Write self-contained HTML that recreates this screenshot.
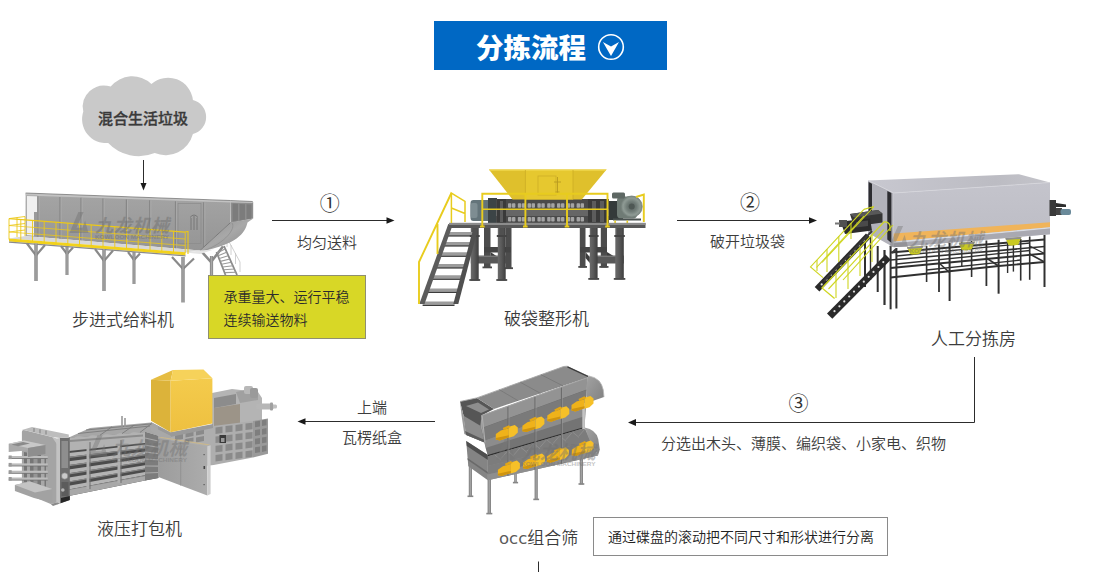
<!DOCTYPE html>
<html lang="zh-CN">
<head>
<meta charset="utf-8">
<title>分拣流程</title>
<style>
html,body{margin:0;padding:0;background:#fff;}
body{width:1100px;height:572px;position:relative;overflow:hidden;font-family:"Liberation Sans","Noto Sans CJK SC",sans-serif;color:#444;}
.t{position:absolute;white-space:nowrap;line-height:1;}
.lbl{font-size:17px;color:#3c3c3c;font-weight:350;}
.sm{font-size:15px;color:#3c3c3c;font-weight:350;}
.num{font-size:20px;color:#333;font-weight:400;}
#title{position:absolute;left:434px;top:21px;width:233px;height:49px;background:#0068c4;}
#title span{position:absolute;left:42px;top:13.500px;font-size:27.5px;font-weight:900;color:#fff;line-height:1;white-space:nowrap;}
#ybox{position:absolute;left:208px;top:275px;width:158px;height:64px;background:#d8d726;border:1px solid #8f8f70;box-sizing:border-box;}
#ybox div{position:absolute;left:14.500px;font-size:14px;color:#2c2c2c;font-weight:350;line-height:1;white-space:nowrap;}
#wbox{position:absolute;left:593px;top:517px;width:295px;height:39px;border:1px solid #8a8a8a;box-sizing:border-box;background:#fff;}
#wbox div{position:absolute;left:14px;top:11.5px;font-size:14px;color:#222;font-weight:350;line-height:1;white-space:nowrap;}
svg{position:absolute;left:0;top:0;}
.wm{font-family:"Liberation Sans","Noto Sans CJK SC",sans-serif;font-weight:700;font-style:italic;fill:#707070;}
</style>
</head>
<body>
<svg id="art" width="1100" height="572" viewBox="0 0 1100 572">
<!-- cloud -->
<g id="cloud" fill="#c9c9c9">
<path d="M83.3,111.5 A21.300,21.300 0 0 1 110.7,86.6 A27.600,27.600 0 0 1 151.4,84.1 A25,25 0 0 1 192.9,99.9 A17.600,17.600 0 0 1 192.9,134 A28.300,28.300 0 0 1 154.7,153 A42,42 0 0 1 108.2,143 A24,24 0 0 1 83.3,111.5 Z"/>
</g>
<!-- arrows -->
<g stroke="#2c2c2c" stroke-width="1" fill="none">
<line x1="143.5" y1="160" x2="143.5" y2="184"/>
<line x1="272" y1="220.5" x2="388" y2="220.5"/>
<line x1="677" y1="220.5" x2="810" y2="220.5"/>
<polyline points="974.500,357 974.500,422.5 635,422.5"/>
<line x1="435" y1="421.5" x2="304" y2="421.5"/>
<line x1="538.5" y1="561.500" x2="538.5" y2="572"/>
</g>
<g fill="#1a1a1a">
<polygon points="140.5,183 146.5,183 143.5,190.5"/>
<polygon points="386.500,217.200 386.500,223.800 394.5,220.5"/>
<polygon points="809,217.200 809,223.800 817,220.5"/>
<polygon points="636,419.100 636,425.900 628,422.5"/>
<polygon points="305.500,418.200 305.500,424.800 297.500,421.5"/>
</g>
<g id="feeder">
<defs><linearGradient id="fbody" x1="0" y1="0" x2="0" y2="1"><stop offset="0" stop-color="#adadad"/><stop offset="0.08" stop-color="#a3a3a3"/><stop offset="1" stop-color="#959595"/></linearGradient><linearGradient id="fchute" x1="0" y1="0" x2="1" y2="1"><stop offset="0" stop-color="#8e8e8e"/><stop offset="0.5" stop-color="#a8a8a8"/><stop offset="1" stop-color="#868686"/></linearGradient><linearGradient id="fleg" x1="0" y1="0" x2="1" y2="0"><stop offset="0" stop-color="#7e7e7e"/><stop offset="0.5" stop-color="#a8a8a8"/><stop offset="1" stop-color="#808080"/></linearGradient></defs>
<path d="M61,246 L67,254 L73,247.5" fill="none" stroke="#8a8a8a" stroke-width="2.2"/><rect x="65.5" y="246" width="3" height="29" fill="url(#fleg)"/>
<path d="M128,252 L134,260 L140,253.5" fill="none" stroke="#8a8a8a" stroke-width="2.2"/><rect x="132.5" y="252" width="3" height="32" fill="url(#fleg)"/>
<path d="M201.500,251.500 L211,262 L223,246.500" fill="none" stroke="#8a8a8a" stroke-width="2.6"/>
<rect x="209.9" y="256" width="3.2" height="34" fill="url(#fleg)"/>
<g stroke="#8a8a8a" stroke-width="1.8" fill="none">
<line x1="216.5" y1="252" x2="225.5" y2="275"/><line x1="224" y1="246" x2="237" y2="275"/>
</g>
<g stroke="#9a9a9a" stroke-width="1.1">
<line x1="217.0" y1="253.0" x2="225.0" y2="249.0"/>
<line x1="218.1" y1="255.8" x2="226.6" y2="252.3"/>
<line x1="219.3" y1="258.6" x2="228.2" y2="255.7"/>
<line x1="220.4" y1="261.4" x2="229.8" y2="259.0"/>
<line x1="221.5" y1="264.2" x2="231.4" y2="262.3"/>
<line x1="222.7" y1="267.0" x2="233.0" y2="265.7"/>
<line x1="223.8" y1="269.8" x2="234.6" y2="269.0"/>
<line x1="224.9" y1="272.6" x2="236.2" y2="272.3"/>
</g>
<g stroke="#c4c4c4" stroke-width="0.8" fill="none"><line x1="227" y1="238" x2="240" y2="262"/><line x1="227" y1="238" x2="227" y2="247"/><line x1="231" y1="245" x2="231" y2="255"/><line x1="235.500" y1="253" x2="235.500" y2="264"/><line x1="240" y1="262" x2="240" y2="272"/></g>
<polygon points="230.6,201 253.2,202 253.2,218.500 231,223" fill="#8e8e8e"/>
<polygon points="232.500,203.500 238,203.800 238,220.500 232.500,221.500" fill="#7c7c7c"/><polygon points="239.500,204 245,204.300 245,219.500 239.500,220.500" fill="#7c7c7c"/><polygon points="246.500,204.300 251.500,204.500 251.500,218.500 246.500,219.300" fill="#7c7c7c"/>
<path d="M230.6,222.5 L253.2,218.500 L247.500,222.600 C245,234 236,244 203,251.300 L200,250.5 Z" fill="url(#fchute)"/>
<path d="M232,223 C236,228 226,243 203,251" fill="none" stroke="#8c8c8c" stroke-width="0.7"/>
<polygon points="25.6,193.300 230.6,200.800 230.6,222.500 200,250.5 25.6,236" fill="url(#fbody)"/>
<polygon points="25.6,193 252.7,201.500 252.7,203 230.6,202.500 25.6,195.500" fill="#c2c2c2"/>
<polyline points="25.6,193 230.6,200.500 252.7,201.500" fill="none" stroke="#6e6e6e" stroke-width="0.7"/>
<polygon points="26.500,195.500 37.5,196 37.5,236.500 26.500,235.500" fill="#f0f0f0" stroke="#9a9a9a" stroke-width="0.6"/>
<rect x="34" y="212" width="3.5" height="25" fill="#9a9a9a"/>
<line x1="38" y1="196.3" x2="38" y2="237.0" stroke="#868686" stroke-width="1.2"/>
<line x1="39.1" y1="196.3" x2="39.1" y2="237.0" stroke="#b4b4b4" stroke-width="0.6"/>
<line x1="60" y1="197.1" x2="60" y2="238.9" stroke="#868686" stroke-width="1.2"/>
<line x1="61.1" y1="197.1" x2="61.1" y2="238.9" stroke="#b4b4b4" stroke-width="0.6"/>
<line x1="81" y1="197.8" x2="81" y2="240.6" stroke="#868686" stroke-width="1.2"/>
<line x1="82.1" y1="197.8" x2="82.1" y2="240.6" stroke="#b4b4b4" stroke-width="0.6"/>
<line x1="103" y1="198.6" x2="103" y2="242.4" stroke="#868686" stroke-width="1.2"/>
<line x1="104.1" y1="198.6" x2="104.1" y2="242.4" stroke="#b4b4b4" stroke-width="0.6"/>
<line x1="126.4" y1="199.5" x2="126.4" y2="244.4" stroke="#868686" stroke-width="1.2"/>
<line x1="127.5" y1="199.5" x2="127.5" y2="244.4" stroke="#b4b4b4" stroke-width="0.6"/>
<line x1="149.7" y1="200.3" x2="149.7" y2="246.3" stroke="#868686" stroke-width="1.2"/>
<line x1="150.79999999999998" y1="200.3" x2="150.79999999999998" y2="246.3" stroke="#b4b4b4" stroke-width="0.6"/>
<line x1="175.5" y1="201.3" x2="175.5" y2="248.5" stroke="#868686" stroke-width="1.2"/>
<line x1="176.6" y1="201.3" x2="176.6" y2="248.5" stroke="#b4b4b4" stroke-width="0.6"/>
<line x1="203.7" y1="202.3" x2="203.7" y2="247.1" stroke="#868686" stroke-width="1.2"/>
<line x1="204.79999999999998" y1="202.3" x2="204.79999999999998" y2="247.1" stroke="#b4b4b4" stroke-width="0.6"/>
<rect x="178" y="203.500" width="23" height="40" fill="none" stroke="#8a8a8a" stroke-width="0.7"/>
<path d="M191,218 v12 M194,216 v14 M197,218 v12 M190,217.500 q4,-5 8,0" stroke="#777" stroke-width="1" fill="none"/>
<line x1="230.6" y1="222.5" x2="200" y2="250.5" stroke="#7a7a7a" stroke-width="1"/>
<polygon points="9,238.500 25.6,236 200,250.500 185.5,252.500" fill="#d8d8d8"/>
<polygon points="185.5,252.500 200,250.500 214,249.500 200,254" fill="#e4e4e4"/>
<polygon points="9,238.500 185.5,252.200 185.5,255.200 9,241.500" fill="#f2d21c"/>
<polygon points="9,241.500 185.5,255.200 185.5,256.500 9,242.800" fill="#8a8a8a"/>
<path d="M27,243.5 L36,255.5 L45,245.0" fill="none" stroke="#8a8a8a" stroke-width="2.2"/><rect x="34.3" y="243.5" width="3.4" height="37.5" fill="url(#fleg)"/>
<path d="M95,249 L104,261 L113,250.5" fill="none" stroke="#8a8a8a" stroke-width="2.2"/><rect x="102.3" y="249" width="3.4" height="42" fill="url(#fleg)"/>
<path d="M172,257 L183,269 L194,258.5" fill="none" stroke="#8a8a8a" stroke-width="2.2"/><rect x="181.3" y="257" width="3.4" height="45.5" fill="url(#fleg)"/>
<g stroke="#ecc818" fill="none">
<line x1="9" y1="218.6" x2="185" y2="232.1" stroke-width="1.1"/>
<line x1="9" y1="225.5" x2="185" y2="239.0" stroke-width="0.75"/>
<line x1="9" y1="232" x2="185" y2="245.5" stroke-width="0.75"/>
<line x1="9.0" y1="218.6" x2="9.0" y2="239.5" stroke-width="0.9"/>
<line x1="20.8" y1="219.5" x2="20.8" y2="240.4" stroke-width="0.9"/>
<line x1="32.5" y1="220.4" x2="32.5" y2="241.3" stroke-width="0.9"/>
<line x1="44.2" y1="221.3" x2="44.2" y2="242.2" stroke-width="0.9"/>
<line x1="56.0" y1="222.2" x2="56.0" y2="243.1" stroke-width="0.9"/>
<line x1="67.8" y1="223.1" x2="67.8" y2="244.0" stroke-width="0.9"/>
<line x1="79.5" y1="224.0" x2="79.5" y2="244.9" stroke-width="0.9"/>
<line x1="91.2" y1="224.9" x2="91.2" y2="245.8" stroke-width="0.9"/>
<line x1="103.0" y1="225.8" x2="103.0" y2="246.7" stroke-width="0.9"/>
<line x1="114.8" y1="226.7" x2="114.8" y2="247.6" stroke-width="0.9"/>
<line x1="126.5" y1="227.6" x2="126.5" y2="248.5" stroke-width="0.9"/>
<line x1="138.2" y1="228.5" x2="138.2" y2="249.4" stroke-width="0.9"/>
<line x1="150.0" y1="229.4" x2="150.0" y2="250.3" stroke-width="0.9"/>
<line x1="161.8" y1="230.3" x2="161.8" y2="251.2" stroke-width="0.9"/>
<line x1="173.5" y1="231.2" x2="173.5" y2="252.1" stroke-width="0.9"/>
<line x1="185.2" y1="232.1" x2="185.2" y2="253.0" stroke-width="0.9"/>
<path d="M9,218.600 L25,216.500 M9,225.500 L25,223.500 M9,232 L25,230 M17,217.500 V237 M25,216.500 V236" stroke-width="0.9"/>
<path d="M185,232 L188,231.500 V254 " stroke-width="1.1"/>
</g>
<g opacity="0.5"><text class="wm" x="95" y="231.5" font-size="18" textLength="74" lengthAdjust="spacing">九龙机械</text><path d="M69.5,233.0 L78.4,212.0 L83.6,212.0 L76.5,227.8 L82.4,227.8 L85.1,220.8 L88.5,233.0 Z" fill="#777"/><text class="wm" x="95" y="238.5" font-size="5.5" textLength="74" lengthAdjust="spacingAndGlyphs" style="font-style:normal">KOWLOON MACHINERY</text></g>
</g>
<g id="shredder">
<defs><linearGradient id="scol" x1="0" y1="0" x2="1" y2="0"><stop offset="0" stop-color="#6a6a6a"/><stop offset="0.45" stop-color="#5a5a5a"/><stop offset="1" stop-color="#3e3e3e"/></linearGradient><linearGradient id="shop" x1="0" y1="0" x2="0" y2="1"><stop offset="0" stop-color="#e6c52e"/><stop offset="1" stop-color="#dfbf2c"/></linearGradient><radialGradient id="smot" cx="0.5" cy="0.5" r="0.5"><stop offset="0" stop-color="#59635f"/><stop offset="0.45" stop-color="#6f7b76"/><stop offset="0.8" stop-color="#8e9a94"/><stop offset="1" stop-color="#7c8882"/></radialGradient></defs>
<rect x="484" y="227" width="6.5" height="41" fill="#4c4c4c"/><rect x="482.5" y="266.5" width="9.5" height="1.8" fill="#4a4a4a"/>
<rect x="505.7" y="227" width="5.800000000000011" height="41.80000000000001" fill="#4c4c4c"/><rect x="504.2" y="267.3" width="8.800000000000011" height="1.8" fill="#4a4a4a"/>
<rect x="579.8" y="227" width="5.7000000000000455" height="40.5" fill="#4c4c4c"/><rect x="578.3" y="266.0" width="8.700000000000045" height="1.8" fill="#4a4a4a"/>
<rect x="600.8" y="227" width="6.2000000000000455" height="40.5" fill="#4c4c4c"/><rect x="599.3" y="266.0" width="9.200000000000045" height="1.8" fill="#4a4a4a"/>
<rect x="484" y="247" width="27" height="5.5" fill="#444"/>
<rect x="580" y="247" width="27" height="5.5" fill="#444"/>
<polygon points="490.500,252 497.800,257 497.800,263 490.500,258" fill="#3c3c3c"/>
<polygon points="585.500,252 589.800,257 589.800,263 585.500,258" fill="#3c3c3c"/>
<polygon points="607,252 615,257 615,263 607,258" fill="#3c3c3c"/>
<rect x="470.8" y="255.7" width="35" height="7.8" fill="#585858"/><rect x="470.8" y="255.7" width="35" height="1.2" fill="#7a7a7a"/>
<rect x="589.8" y="255.7" width="34" height="7.8" fill="#585858"/><rect x="589.8" y="255.7" width="34" height="1.2" fill="#7a7a7a"/>
<rect x="470.8" y="227" width="7.899999999999977" height="53.60000000000002" fill="url(#scol)"/><rect x="469.8" y="235" width="9.899999999999977" height="2" fill="#444"/><rect x="472.3" y="227" width="4.899999999999977" height="8" fill="#505050"/><rect x="469.3" y="279.1" width="10.899999999999977" height="1.8" fill="#4a4a4a"/>
<rect x="497.8" y="227" width="7.899999999999977" height="53.60000000000002" fill="url(#scol)"/><rect x="496.8" y="235" width="9.899999999999977" height="2" fill="#444"/><rect x="499.3" y="227" width="4.899999999999977" height="8" fill="#505050"/><rect x="496.3" y="279.1" width="10.899999999999977" height="1.8" fill="#4a4a4a"/>
<rect x="589.8" y="227" width="7.800000000000068" height="52.5" fill="url(#scol)"/><rect x="588.8" y="235" width="9.800000000000068" height="2" fill="#444"/><rect x="591.3" y="227" width="4.800000000000068" height="8" fill="#505050"/><rect x="588.3" y="278.0" width="10.800000000000068" height="1.8" fill="#4a4a4a"/>
<rect x="615.3" y="227" width="8.5" height="52.5" fill="url(#scol)"/><rect x="614.3" y="235" width="10.5" height="2" fill="#444"/><rect x="616.8" y="227" width="5.5" height="8" fill="#505050"/><rect x="613.8" y="278.0" width="11.5" height="1.8" fill="#4a4a4a"/>
<g>
<polygon points="448.7,232 473.7,232 472.7,235.2 447.7,235.2" fill="#9c9c9c"/>
<polygon points="447.7,235.2 472.7,235.2 472.7,236.6 447.7,236.6" fill="#3c3c3c"/>
<polygon points="445.1,242 471.1,242 470.1,245.2 444.1,245.2" fill="#9c9c9c"/>
<polygon points="444.1,245.2 470.1,245.2 470.1,246.6 444.1,246.6" fill="#3c3c3c"/>
<polygon points="441.4,252.3 468.4,252.3 467.4,255.5 440.4,255.5" fill="#9c9c9c"/>
<polygon points="440.4,255.5 467.4,255.5 467.4,256.90000000000003 440.4,256.90000000000003" fill="#3c3c3c"/>
<polygon points="437.1,264 465.3,264 464.3,267.2 436.1,267.2" fill="#9c9c9c"/>
<polygon points="436.1,267.2 464.3,267.2 464.3,268.6 436.1,268.6" fill="#3c3c3c"/>
<polygon points="433.0,275.3 462.3,275.3 461.3,278.5 432.0,278.5" fill="#9c9c9c"/>
<polygon points="432.0,278.5 461.3,278.5 461.3,279.90000000000003 432.0,279.90000000000003" fill="#3c3c3c"/>
<polygon points="428.3,288.4 458.9,288.4 457.9,291.59999999999997 427.3,291.59999999999997" fill="#9c9c9c"/>
<polygon points="427.3,291.59999999999997 457.9,291.59999999999997 457.9,293.0 427.3,293.0" fill="#3c3c3c"/>
<polygon points="423.6,301.5 455.5,301.5 454.5,304.7 422.6,304.7" fill="#9c9c9c"/>
<polygon points="422.6,304.7 454.5,304.7 454.5,306.1 422.6,306.1" fill="#3c3c3c"/>
<polygon points="448.300,224 453,224 424.500,304 419.300,304" fill="#5c5c5c"/>
<polygon points="474.500,224 479.200,224 458.300,304 453.300,304" fill="#505050"/>
</g>
<rect x="470.5" y="200" width="26" height="21" rx="3" fill="#64747a"/>
<rect x="470.5" y="203" width="7" height="15" rx="2" fill="#7e8d92"/>
<rect x="488" y="198" width="9" height="25" fill="#3c4446"/>
<rect x="496" y="199" width="113" height="25.500" fill="#4a4a4a"/>
<rect x="496" y="209" width="113" height="7" fill="#666"/>
<g fill="#a4a4a4">
<rect x="508.0" y="203.200" width="3.4" height="4.6" rx="0.8"/><rect x="512.0" y="203.200" width="3.4" height="4.6" rx="0.8"/>
<rect x="508.0" y="217" width="3.4" height="4.6" rx="0.8"/><rect x="512.0" y="217" width="3.4" height="4.6" rx="0.8"/>
<rect x="517.8" y="203.200" width="3.4" height="4.6" rx="0.8"/><rect x="521.8" y="203.200" width="3.4" height="4.6" rx="0.8"/>
<rect x="517.8" y="217" width="3.4" height="4.6" rx="0.8"/><rect x="521.8" y="217" width="3.4" height="4.6" rx="0.8"/>
<rect x="527.6" y="203.200" width="3.4" height="4.6" rx="0.8"/><rect x="531.6" y="203.200" width="3.4" height="4.6" rx="0.8"/>
<rect x="527.6" y="217" width="3.4" height="4.6" rx="0.8"/><rect x="531.6" y="217" width="3.4" height="4.6" rx="0.8"/>
<rect x="537.4" y="203.200" width="3.4" height="4.6" rx="0.8"/><rect x="541.4" y="203.200" width="3.4" height="4.6" rx="0.8"/>
<rect x="537.4" y="217" width="3.4" height="4.6" rx="0.8"/><rect x="541.4" y="217" width="3.4" height="4.6" rx="0.8"/>
<rect x="547.2" y="203.200" width="3.4" height="4.6" rx="0.8"/><rect x="551.2" y="203.200" width="3.4" height="4.6" rx="0.8"/>
<rect x="547.2" y="217" width="3.4" height="4.6" rx="0.8"/><rect x="551.2" y="217" width="3.4" height="4.6" rx="0.8"/>
<rect x="557.0" y="203.200" width="3.4" height="4.6" rx="0.8"/><rect x="561.0" y="203.200" width="3.4" height="4.6" rx="0.8"/>
<rect x="557.0" y="217" width="3.4" height="4.6" rx="0.8"/><rect x="561.0" y="217" width="3.4" height="4.6" rx="0.8"/>
<rect x="566.8" y="203.200" width="3.4" height="4.6" rx="0.8"/><rect x="570.8" y="203.200" width="3.4" height="4.6" rx="0.8"/>
<rect x="566.8" y="217" width="3.4" height="4.6" rx="0.8"/><rect x="570.8" y="217" width="3.4" height="4.6" rx="0.8"/>
<rect x="576.6" y="203.200" width="3.4" height="4.6" rx="0.8"/><rect x="580.6" y="203.200" width="3.4" height="4.6" rx="0.8"/>
<rect x="576.6" y="217" width="3.4" height="4.6" rx="0.8"/><rect x="580.6" y="217" width="3.4" height="4.6" rx="0.8"/>
</g>
<g fill="#3a3a3a"><rect x="497" y="199" width="9" height="25.500"/><rect x="588" y="199" width="20" height="25.500"/></g>
<g fill="#5c5c5c"><rect x="500" y="201" width="3" height="21"/><rect x="592" y="201" width="4" height="21"/><rect x="600" y="201" width="4" height="21"/></g>
<polygon points="488.9,169.5 606.6,169.5 581.8,199.500 512.5,199.500" fill="#dfc02c"/>
<polygon points="525.4,170.500 573,170.500 573,199.500 525.4,199.500" fill="#e6c82f"/>
<polygon points="488.9,169.5 606.6,169.5 605.600,170.800 489.900,170.800" fill="#f0d84e"/>
<rect x="538" y="176" width="18" height="19" fill="none" stroke="#cdae26" stroke-width="0.8"/>
<path d="M557.500,177 v16 M554,182 h7 M555.500,192 h4" stroke="#b89a20" stroke-width="0.9" fill="none"/>
<line x1="525.4" y1="170" x2="525.4" y2="199.500" stroke="#c9aa24" stroke-width="0.7"/><line x1="573" y1="170" x2="573" y2="199.500" stroke="#c9aa24" stroke-width="0.7"/>
<rect x="609" y="201" width="14" height="19" fill="#343a3a"/>
<rect x="617" y="196.5" width="20" height="22" rx="4" fill="#6f7b75"/>
<rect x="612" y="192.500" width="13" height="6" rx="1.5" fill="#5e6864"/>
<circle cx="631.7" cy="206.6" r="10.6" fill="url(#smot)" stroke="#76827c" stroke-width="0.8"/>
<circle cx="631.7" cy="206.6" r="3" fill="#4e5854"/>
<rect x="613" y="218.500" width="28" height="2" fill="#4a5250"/><rect x="614.300" y="220.500" width="1.6" height="2.500" fill="#e8cc1e"/><rect x="626.500" y="220.500" width="1.6" height="2.500" fill="#e8cc1e"/>
<polygon points="449,223 645.5,223 645.5,228 449,228" fill="#585858"/>
<rect x="449" y="222.800" width="196.500" height="2.2" fill="#8c8c8c"/>
<g stroke="#e8cc1e" fill="none" stroke-width="1.9">
<path d="M482.3,226.500 V193.7 H607.5 V226.500 M525.4,193.700 V226.500 M567,193.700 V226.500"/>
<path d="M482.3,209.2 H607.5" stroke-width="1.5"/>
<path d="M636,197 L643.8,194.5 V222" />
<path d="M451.4,223 V193 L465,201.400 V222 M451.400,208 L465,213.500" stroke-width="1.5"/>
<path d="M451.4,193 L419,262 V304 M437.500,224 V254" stroke-width="1.9"/>
</g>
<g fill="#e6ca20"><rect x="480" y="225.500" width="4.6" height="2"/><rect x="523" y="225.500" width="4.6" height="2"/><rect x="564.700" y="225.500" width="4.6" height="2"/><rect x="605.200" y="225.500" width="4.6" height="2"/></g>
</g>
<g id="house">
<defs><linearGradient id="hfront" x1="0" y1="0" x2="0" y2="1"><stop offset="0" stop-color="#c4c4cc"/><stop offset="1" stop-color="#bcbcc4"/></linearGradient><linearGradient id="htop" x1="0" y1="0" x2="1" y2="0"><stop offset="0" stop-color="#c8c8d0"/><stop offset="0.7" stop-color="#bcbcc3"/><stop offset="1" stop-color="#c4c4ca"/></linearGradient></defs>
<g stroke="#303030" fill="none" stroke-linecap="butt">
<line x1="890.6" y1="246" x2="890.6" y2="309.3" stroke-width="2"/>
<line x1="896.4" y1="248" x2="896.4" y2="308.5" stroke-width="2"/>
<line x1="926.6" y1="246" x2="926.6" y2="282" stroke-width="1.6"/>
<line x1="939" y1="244.6" x2="939" y2="292" stroke-width="1.8"/>
<line x1="949.6" y1="243" x2="949.6" y2="301" stroke-width="2"/>
<line x1="961.8" y1="241" x2="961.8" y2="267" stroke-width="1.4"/>
<line x1="971.6" y1="241" x2="971.6" y2="277" stroke-width="1.6"/>
<line x1="986.4" y1="240.5" x2="986.4" y2="286" stroke-width="1.8"/>
<line x1="998.6" y1="239.7" x2="998.6" y2="293.7" stroke-width="2"/>
<line x1="1007.6" y1="241" x2="1007.6" y2="273" stroke-width="1.4"/>
<line x1="1013.4" y1="241" x2="1013.4" y2="271.6" stroke-width="1.4"/>
<line x1="1020.7" y1="239" x2="1020.7" y2="280.6" stroke-width="1.6"/>
<line x1="1029.7" y1="236.5" x2="1029.7" y2="279.8" stroke-width="1.6"/>
<line x1="1044.5" y1="234.8" x2="1044.5" y2="287" stroke-width="2"/>
<line x1="890.6" y1="252.5" x2="1044.5" y2="239.5" stroke-width="1.8"/>
<line x1="890.6" y1="260" x2="1044.5" y2="246.5" stroke-width="1.6"/>
<line x1="890.6" y1="268" x2="1044.5" y2="253.5" stroke-width="1.8"/>
<line x1="890.6" y1="277.5" x2="998.6" y2="266" stroke-width="2"/>
<line x1="998.6" y1="266" x2="1044.5" y2="262" stroke-width="1.8"/>
<line x1="896.4" y1="256" x2="1030" y2="243" stroke-width="1.3"/>
<line x1="896.4" y1="264" x2="1030" y2="250.5" stroke-width="1.3"/>
<line x1="926.6" y1="270" x2="1020.7" y2="260" stroke-width="1.3"/>
<line x1="939" y1="263" x2="949.6" y2="272.5" stroke-width="1.6"/>
<line x1="986.4" y1="258" x2="998.6" y2="266" stroke-width="1.6"/>
<line x1="1029.7" y1="254" x2="1044.5" y2="262" stroke-width="1.6"/>
<line x1="1029.7" y1="246" x2="1044.5" y2="253.5" stroke-width="1.4"/>
</g>
<g stroke="#303030" fill="none">
<line x1="865" y1="236" x2="865" y2="287" stroke-width="2"/>
<line x1="877.7" y1="246" x2="877.7" y2="292" stroke-width="2"/>
<line x1="884.5" y1="250" x2="884.5" y2="305" stroke-width="2.2"/>
<line x1="870.5" y1="236" x2="870.5" y2="280" stroke-width="1.4"/>
</g>
<path d="M907,246.9 L923,245.9 L920,253.4 Q915,255.4 910,253.9 Z" fill="#c9c922"/>
<path d="M907,246.9 L923,245.9 L922.5,247.9 L907.5,248.9 Z" fill="#8e8e8e"/>
<path d="M958.7,242.8 L974.7,241.8 L971.7,249.3 Q966.7,251.3 961.7,249.8 Z" fill="#c9c922"/>
<path d="M958.7,242.8 L974.7,241.8 L974.2,243.8 L959.2,244.8 Z" fill="#8e8e8e"/>
<path d="M1005.4,237.9 L1021.4,236.9 L1018.4,244.4 Q1013.4,246.4 1008.4,244.9 Z" fill="#c9c922"/>
<path d="M1005.4,237.9 L1021.4,236.9 L1020.9,238.9 L1005.9,239.9 Z" fill="#8e8e8e"/>
<polygon points="868,180.4 893.7,193 893.7,247.300 868,233" fill="#b2b2ba"/>
<polygon points="868.6,182 872,183.700 872,212 868.6,212" fill="#2c2c30"/>
<polygon points="887.3,191 891.4,193 891.4,243 887.3,239.500" fill="#2c2c30"/>
<polygon points="893.7,193 1050,182.5 1050,234.2 893.7,247.3" fill="url(#hfront)"/>
<polygon points="893.7,233.6 1050,222.3 1050,227.2 893.7,241.6" fill="#f0b45a"/>
<polygon points="893.7,241.6 1050,227.2 1050,228.600 893.7,243.200" fill="#d8dce4"/>
<polygon points="893.7,243.2 1050,228.6 1050,234.2 893.7,247.3" fill="#a9a9b1"/>
<polygon points="868,180.4 1019,174.2 1050,182.5 893.7,193" fill="url(#htop)"/>
<polyline points="868,180.4 893.7,193 1050,182.5" fill="none" stroke="#d6d6dc" stroke-width="0.8"/>
<rect x="1049.5" y="200" width="6.5" height="16" fill="#3a3a3a"/>
<polygon points="1056,203 1066,204.500 1066,207 1056,207" fill="#2e2e2e"/>
<rect x="1056" y="208" width="6" height="7" fill="#444"/>
<rect x="1060.500" y="209" width="10.500" height="6" rx="2" fill="#6a8a9a"/>
<polygon points="850,214 878,210 882.500,213.500 882.500,222.500 854,226.500" fill="#353535"/>
<polygon points="850,214 878,210 882.500,213.500 854,217.500" fill="#585858"/>
<polygon points="840.5,221.500 870,218.500 872,230.500 845,234" fill="#2c2c2c"/>
<polygon points="856,222 868,220.500 868,226 856,227.500" fill="#4a4a4a"/>
<rect x="839" y="220" width="8" height="7" fill="#505050"/>
<rect x="835" y="222.500" width="5" height="2" fill="#777"/>
<polygon points="866.0,233.5 814.7,287.0 819.4,291.5 870.7,238.0" fill="#2a2a2a"/>
<circle cx="863.7" cy="240.6" r="1.1" fill="#e0e0e0"/>
<circle cx="859.0" cy="245.5" r="1.1" fill="#e0e0e0"/>
<circle cx="854.4" cy="250.3" r="1.1" fill="#e0e0e0"/>
<circle cx="849.7" cy="255.2" r="1.1" fill="#e0e0e0"/>
<circle cx="845.0" cy="260.1" r="1.1" fill="#e0e0e0"/>
<circle cx="840.4" cy="264.9" r="1.1" fill="#e0e0e0"/>
<circle cx="835.7" cy="269.8" r="1.1" fill="#e0e0e0"/>
<circle cx="831.0" cy="274.7" r="1.1" fill="#e0e0e0"/>
<circle cx="826.4" cy="279.5" r="1.1" fill="#e0e0e0"/>
<circle cx="821.7" cy="284.4" r="1.1" fill="#e0e0e0"/>
<polygon points="885.5,254.5 827.0,313.5 832.3,318.8 890.8,259.8" fill="#2a2a2a"/>
<circle cx="883.3" cy="262.1" r="1.1" fill="#e0e0e0"/>
<circle cx="878.4" cy="267.0" r="1.1" fill="#e0e0e0"/>
<circle cx="873.5" cy="271.9" r="1.1" fill="#e0e0e0"/>
<circle cx="868.7" cy="276.8" r="1.1" fill="#e0e0e0"/>
<circle cx="863.8" cy="281.7" r="1.1" fill="#e0e0e0"/>
<circle cx="858.9" cy="286.6" r="1.1" fill="#e0e0e0"/>
<circle cx="854.0" cy="291.6" r="1.1" fill="#e0e0e0"/>
<circle cx="849.2" cy="296.5" r="1.1" fill="#e0e0e0"/>
<circle cx="844.3" cy="301.4" r="1.1" fill="#e0e0e0"/>
<circle cx="839.4" cy="306.3" r="1.1" fill="#e0e0e0"/>
<circle cx="834.5" cy="311.2" r="1.1" fill="#e0e0e0"/>
<line x1="872" y1="231" x2="824" y2="281" stroke="#3a3a3a" stroke-width="2"/>
<line x1="896" y1="249" x2="892" y2="253" stroke="#3a3a3a" stroke-width="2"/>
<g stroke="#cfd622" stroke-width="1.1" fill="none">
<path d="M863.9,209.4 L810.5,267 L823,277.6"/>
<path d="M863.9,216 L816.500,267.500"/>
<path d="M851,223 V239 M838.8,236 V262 M827,249 V272 M817,260 V271"/>
<path d="M874,206.500 L822,262.500 M863.900,209.400 L874,206.500"/>
<path d="M890,231 V226 Q889,221.500 883.9,222 L822,288 L834.6,298.5" stroke-width="1.3"/>
<path d="M884,229.500 L828.500,289"/>
<path d="M872,235 V262 M860,248 V276 M848,261 V289 M836,274 V298"/>
<path d="M893,225 L843,280"/>
</g>
<g opacity="0.42"><text class="wm" x="909.5" y="245.5" font-size="18" textLength="73.5" lengthAdjust="spacing">九龙机械</text><path d="M889.0,247.0 L897.9,226.0 L903.1,226.0 L896.0,241.8 L901.9,241.8 L904.6,234.8 L908.0,247.0 Z" fill="#777"/><text class="wm" x="909.5" y="252.5" font-size="5.5" textLength="73.5" lengthAdjust="spacingAndGlyphs" style="font-style:normal">KOWLOON MACHINERY</text></g>
</g>
<g id="occ">
<defs><linearGradient id="oleg" x1="0" y1="0" x2="1" y2="0"><stop offset="0" stop-color="#7a7a7a"/><stop offset="0.5" stop-color="#a4a4a4"/><stop offset="1" stop-color="#7c7c7c"/></linearGradient><linearGradient id="ocap" x1="0" y1="0" x2="1" y2="1"><stop offset="0" stop-color="#a2a2a2"/><stop offset="1" stop-color="#808080"/></linearGradient></defs>
<rect x="468.79999999999995" y="462" width="3.2" height="34.69999999999999" fill="url(#oleg)"/>
<rect x="467.49999999999994" y="495.5" width="5.800000000000001" height="1.6" fill="#868686"/>
<rect x="514.2" y="470" width="2.6" height="13" fill="url(#oleg)"/>
<rect x="512.9000000000001" y="481.8" width="5.2" height="1.6" fill="#868686"/>
<rect x="579.8" y="440" width="3.2" height="44.39999999999998" fill="url(#oleg)"/>
<rect x="578.5" y="483.2" width="5.800000000000001" height="1.6" fill="#868686"/>
<rect x="534.6" y="462" width="3.2" height="37.80000000000001" fill="url(#oleg)"/>
<rect x="533.3000000000001" y="498.6" width="5.800000000000001" height="1.6" fill="#868686"/>
<rect x="487.6" y="474" width="3.4" height="40" fill="url(#oleg)"/>
<rect x="486.3" y="512.8" width="6.0" height="1.6" fill="#868686"/>
<polygon points="466.2,441 487.9,455 487.9,480.2 468.3,466.2" fill="#848484"/>
<polygon points="466.2,441 487.9,455 487.9,460 466.800,446" fill="#4e4e4e"/>
<polygon points="467.500,458 487.900,472 487.900,474 467.700,460" fill="#6a6a6a"/>
<polygon points="460,401.5 476.800,397.900 494,408.900 481.5,415.5 484.6,442.5 466.3,435 463.600,415.700" fill="#565656"/>
<polygon points="466,406 478,402.500 489,409.500 481,413" fill="#8e8e8e"/>
<polygon points="463.6,415.7 480.4,425.7 484.6,442.5 466.3,435" fill="#8c8c8c"/>
<polygon points="481.500,415.500 484.600,442.500 480.400,425.700" fill="#a0a0a0"/>
<polygon points="460,401.500 463.600,415.700 466.300,435 464.300,434 461.500,415" fill="#9a9a9a"/>
<polygon points="465,431 484.600,440 484.600,442.500 466.300,435" fill="#5c5c5c"/>
<polygon points="476.8,397.9 563.6,366.5 567.5,366.2 589,376 587.2,377.8 494,408.9" fill="#8b8b8b"/>
<polyline points="460,401.5 476.8,397.9 563.6,366.5 567.5,366.2" fill="none" stroke="#a8a8a8" stroke-width="0.9"/>
<line x1="567.5" y1="366.8" x2="588" y2="376.500" stroke="#3c3c3c" stroke-width="1.3"/>
<line x1="499.4" y1="389.7" x2="518.2" y2="400.8" stroke="#767676" stroke-width="0.8"/>
<line x1="520.2" y1="382.2" x2="540.6" y2="393.4" stroke="#767676" stroke-width="0.8"/>
<line x1="541.0" y1="374.7" x2="563.0" y2="385.9" stroke="#767676" stroke-width="0.8"/>
<path d="M481.5,415.5 L587.2,377.8 L584.6,427.5 L598,455.5 L487.9,480.2 L487.9,455.7 L484.6,442.5 Z" fill="#8a8a8a"/>
<polygon points="481.5,415.5 587.2,377.8 586.600,390 482.800,428" fill="#939393"/>
<line x1="482.8" y1="428" x2="586.6" y2="390" stroke="#6e6e6e" stroke-width="0.9"/>
<polygon points="482.800,428 586.600,390 585.800,404 484,441" fill="#7a7a7a"/>
<polygon points="484,441 585.800,404 585.200,416 485.600,448" fill="#8c8c8c"/>
<polygon points="485.600,448 585.200,416 584.600,427.500 487.900,455.700" fill="#747474"/>
<line x1="487.9" y1="455.7" x2="584.6" y2="427.5" stroke="#2e2e2e" stroke-width="1.3"/>
<polygon points="487.900,456.300 584.600,428.100 590,441 487.900,466" fill="#7c7c7c"/>
<g stroke="#8e8e8e" stroke-width="0.9" fill="none">
<path d="M495.0,455.1 l6,5 M507.0,451.6 l-6,7"/>
<path d="M508.0,451.3 l6,5 M520.0,447.8 l-6,7"/>
<path d="M521.0,447.5 l6,5 M533.0,444.0 l-6,7"/>
<path d="M534.0,443.8 l6,5 M546.0,440.3 l-6,7"/>
<path d="M547.0,440.0 l6,5 M559.0,436.5 l-6,7"/>
<path d="M560.0,436.2 l6,5 M572.0,432.7 l-6,7"/>
<path d="M573.0,432.4 l6,5 M585.0,428.9 l-6,7"/>
</g>
<polygon points="487.900,466 590,441 594,450 487.900,474.500" fill="#7e7e7e"/>
<polygon points="487.900,474.500 594,450 598,455.500 487.900,480.200" fill="#8e8e8e"/>
<line x1="508" y1="406.0" x2="508" y2="475.7" stroke="#6c6c6c" stroke-width="1.2"/>
<line x1="509" y1="406.0" x2="509" y2="475.7" stroke="#9c9c9c" stroke-width="0.5"/>
<line x1="535" y1="396.4" x2="535" y2="469.6" stroke="#6c6c6c" stroke-width="1.2"/>
<line x1="536" y1="396.4" x2="536" y2="469.6" stroke="#9c9c9c" stroke-width="0.5"/>
<line x1="561.5" y1="387.0" x2="561.5" y2="463.7" stroke="#6c6c6c" stroke-width="1.2"/>
<line x1="562.5" y1="387.0" x2="562.5" y2="463.7" stroke="#9c9c9c" stroke-width="0.5"/>
<line x1="481.5" y1="415.5" x2="587.2" y2="377.8" stroke="#a6a6a6" stroke-width="1"/>
<line x1="482.200" y1="416" x2="485" y2="442.500" stroke="#b0b0b0" stroke-width="1.1"/>
<rect x="582.300" y="403" width="2.6" height="26" fill="#c4c4c4"/>
<path d="M587.2,377.8 L589,376 Q601,378 603.300,390 L604,397 L589,402.200 L586.300,396 Z" fill="url(#ocap)"/>
<path d="M584.6,427.5 Q596,429.500 598.2,439 L599.8,449.6 L598,455.5 L590,441 Z" fill="url(#ocap)"/>
<path d="M589,376 Q601,378 603.300,390 L604,397" fill="none" stroke="#b8b8b8" stroke-width="0.8"/>
<polygon points="495.8,434.1 500.8,430.6 508.8,428.2 508.8,437.2 499.8,440.4 495.8,439.6" fill="#efb21a"/>
<polygon points="508.8,426.7 514.8,424.9 517.8,427.5 517.8,432.5 513.8,436.2 508.8,437.7" fill="#f6c028"/>
<polygon points="502.8,428.0 508.8,425.2 510.8,427.1 503.8,430.2" fill="#e2a616"/>
<polygon points="495.8,438.1 508.8,435.2 508.8,437.2 499.8,440.4 495.8,439.6" fill="#cf9410"/>
<polygon points="522.4,425.7 527.4,422.2 535.4,419.8 535.4,428.8 526.4,432.0 522.4,431.2" fill="#efb21a"/>
<polygon points="535.4,418.3 541.4,416.5 544.4,419.1 544.4,424.1 540.4,427.8 535.4,429.3" fill="#f6c028"/>
<polygon points="529.4,419.6 535.4,416.8 537.4,418.7 530.4,421.8" fill="#e2a616"/>
<polygon points="522.4,429.7 535.4,426.8 535.4,428.8 526.4,432.0 522.4,431.2" fill="#cf9410"/>
<polygon points="547.3,415.5 552.3,412.0 560.3,409.6 560.3,418.6 551.3,421.8 547.3,421.0" fill="#efb21a"/>
<polygon points="560.3,408.1 566.3,406.3 569.3,408.9 569.3,413.9 565.3,417.6 560.3,419.1" fill="#f6c028"/>
<polygon points="554.3,409.4 560.3,406.6 562.3,408.5 555.3,411.6" fill="#e2a616"/>
<polygon points="547.3,419.5 560.3,416.6 560.3,418.6 551.3,421.8 547.3,421.0" fill="#cf9410"/>
<polygon points="571.5,405.1 576.5,401.6 584.5,399.2 584.5,408.2 575.5,411.4 571.5,410.6" fill="#efb21a"/>
<polygon points="584.5,397.7 590.5,395.9 593.5,398.5 593.5,403.5 589.5,407.2 584.5,408.7" fill="#f6c028"/>
<polygon points="578.5,399.0 584.5,396.2 586.5,398.1 579.5,401.2" fill="#e2a616"/>
<polygon points="571.5,409.1 584.5,406.2 584.5,408.2 575.5,411.4 571.5,410.6" fill="#cf9410"/>
<polygon points="497.9,469.8 502.9,466.3 510.9,463.9 510.9,472.9 501.9,476.1 497.9,475.3" fill="#efb21a"/>
<polygon points="510.9,462.4 516.9,460.6 519.9,463.2 519.9,468.2 515.9,471.9 510.9,473.4" fill="#f6c028"/>
<polygon points="504.9,463.7 510.9,460.9 512.9,462.8 505.9,465.9" fill="#e2a616"/>
<polygon points="497.9,473.8 510.9,470.9 510.9,472.9 501.9,476.1 497.9,475.3" fill="#cf9410"/>
<polygon points="523.0,462.8 528.0,459.3 536.0,456.9 536.0,465.9 527.0,469.1 523.0,468.3" fill="#efb21a"/>
<polygon points="536.0,455.4 542.0,453.6 545.0,456.2 545.0,461.2 541.0,464.9 536.0,466.4" fill="#f6c028"/>
<polygon points="530.0,456.7 536.0,453.9 538.0,455.8 531.0,458.9" fill="#e2a616"/>
<polygon points="523.0,466.8 536.0,463.9 536.0,465.9 527.0,469.1 523.0,468.3" fill="#cf9410"/>
<polygon points="546.9,456.5 551.9,453.0 559.9,450.6 559.9,459.6 550.9,462.8 546.9,462.0" fill="#efb21a"/>
<polygon points="559.9,449.1 565.9,447.3 568.9,449.9 568.9,454.9 564.9,458.6 559.9,460.1" fill="#f6c028"/>
<polygon points="553.9,450.4 559.9,447.6 561.9,449.5 554.9,452.6" fill="#e2a616"/>
<polygon points="546.9,460.5 559.9,457.6 559.9,459.6 550.9,462.8 546.9,462.0" fill="#cf9410"/>
<polygon points="571.8,449.8 576.8,446.3 584.8,443.9 584.8,452.9 575.8,456.1 571.8,455.3" fill="#efb21a"/>
<polygon points="584.8,442.4 590.8,440.6 593.8,443.2 593.8,448.2 589.8,451.9 584.8,453.4" fill="#f6c028"/>
<polygon points="578.8,443.7 584.8,440.9 586.8,442.8 579.8,445.9" fill="#e2a616"/>
<polygon points="571.8,453.8 584.8,450.9 584.8,452.9 575.8,456.1 571.8,455.3" fill="#cf9410"/>
<g opacity="0.42"><text class="wm" x="521" y="458.5" font-size="18.5" textLength="74.5" lengthAdjust="spacing">九龙机械</text><path d="M496.0,460.0 L504.9,439.0 L510.1,439.0 L503.0,454.8 L508.9,454.8 L511.6,447.8 L515.0,460.0 Z" fill="#777"/><text class="wm" x="521" y="465.5" font-size="5.5" textLength="74.5" lengthAdjust="spacingAndGlyphs" style="font-style:normal">KOWLOON MACHINERY</text></g>
</g>
<g id="baler">
<defs><linearGradient id="bplate" x1="0" y1="0" x2="1" y2="0"><stop offset="0" stop-color="#a2a2a2"/><stop offset="1" stop-color="#b6b6b6"/></linearGradient><linearGradient id="bdoor" x1="0" y1="0" x2="1" y2="0"><stop offset="0" stop-color="#9c9c9c"/><stop offset="1" stop-color="#acacac"/></linearGradient><linearGradient id="byel" x1="0" y1="0" x2="0" y2="1"><stop offset="0" stop-color="#f4cb4c"/><stop offset="1" stop-color="#eec040"/></linearGradient></defs>
<polygon points="212,393 232,389 258,392 262,398 262,424 212,428" fill="#b4b4b4"/>
<polygon points="214,398 236,394 236,404 214,408" fill="#8c8c8c"/>
<polygon points="236,392 252,388.500 258,392 258,400 240,403" fill="#a0a0a0"/>
<rect x="244" y="386" width="9" height="8" rx="2" fill="#b8b8b8"/><rect x="250" y="388" width="8" height="10" rx="2" fill="#9a9a9a"/>
<polygon points="214,408 240,404 240,424 214,428" fill="#9c9488"/>
<rect x="256" y="403.500" width="18" height="6" rx="2.500" fill="#b6b6b6"/><rect x="270" y="402.500" width="3" height="8" rx="1" fill="#a0a0a0"/><rect x="273" y="404.500" width="4" height="4" rx="1.5" fill="#c0c0c0"/>
<rect x="256" y="426" width="11" height="7" rx="2.500" fill="#adadad"/>
<polygon points="170.6,434 213,426 253,421 253,457.600 213.700,465 170.6,470" fill="#aeaeae"/>
<polygon points="253,421 268,418.500 268,453.800 253,457.600" fill="#9a9a9a"/>
<polygon points="215.5,427.4 222.5,426.5 222.5,433.0 215.5,433.9" fill="#8a8a8a"/>
<polygon points="215.5,436.6 222.5,435.7 222.5,442.2 215.5,443.1" fill="#8a8a8a"/>
<polygon points="215.5,445.8 222.5,444.9 222.5,451.4 215.5,452.3" fill="#8a8a8a"/>
<polygon points="215.5,455.0 222.5,454.1 222.5,460.6 215.5,461.5" fill="#8a8a8a"/>
<polygon points="225.5,426.1 232.5,425.2 232.5,431.7 225.5,432.6" fill="#8a8a8a"/>
<polygon points="225.5,435.3 232.5,434.4 232.5,440.9 225.5,441.8" fill="#8a8a8a"/>
<polygon points="225.5,444.5 232.5,443.6 232.5,450.1 225.5,451.0" fill="#8a8a8a"/>
<polygon points="225.5,453.7 232.5,452.8 232.5,459.3 225.5,460.2" fill="#8a8a8a"/>
<polygon points="235.5,424.9 242.5,424.0 242.5,430.5 235.5,431.4" fill="#8a8a8a"/>
<polygon points="235.5,434.1 242.5,433.2 242.5,439.7 235.5,440.6" fill="#8a8a8a"/>
<polygon points="235.5,443.3 242.5,442.4 242.5,448.9 235.5,449.8" fill="#8a8a8a"/>
<polygon points="235.5,452.5 242.5,451.6 242.5,458.1 235.5,459.0" fill="#8a8a8a"/>
<polygon points="245.5,423.6 252.5,422.7 252.5,429.2 245.5,430.1" fill="#8a8a8a"/>
<polygon points="245.5,432.8 252.5,431.9 252.5,438.4 245.5,439.3" fill="#8a8a8a"/>
<polygon points="245.5,442.0 252.5,441.1 252.5,447.6 245.5,448.5" fill="#8a8a8a"/>
<polygon points="245.5,451.2 252.5,450.3 252.5,456.8 245.5,457.7" fill="#8a8a8a"/>
<polygon points="255,421.5 260,420.7 260,426.5 255,427.3" fill="#7e7e7e"/><polygon points="262,420.3 266.500,419.5 266.500,425.3 262,426.1" fill="#7e7e7e"/>
<polygon points="255,430.1 260,429.3 260,435.1 255,435.90000000000003" fill="#7e7e7e"/><polygon points="262,428.90000000000003 266.500,428.1 266.500,433.90000000000003 262,434.70000000000005" fill="#7e7e7e"/>
<polygon points="255,438.7 260,437.9 260,443.7 255,444.5" fill="#7e7e7e"/><polygon points="262,437.5 266.500,436.7 266.500,442.5 262,443.3" fill="#7e7e7e"/>
<polygon points="255,447.3 260,446.5 260,452.3 255,453.1" fill="#7e7e7e"/><polygon points="262,446.1 266.500,445.3 266.500,451.1 262,451.90000000000003" fill="#7e7e7e"/>
<polygon points="175,435 183,433.5 183,439.0 175,440.5" fill="#8a8a8a"/>
<polygon points="185.5,432.5 193.5,431.0 193.5,436.0 185.5,437.5" fill="#8a8a8a"/>
<polygon points="185.5,439 193.5,437.5 193.5,441.5 185.5,443" fill="#8a8a8a"/>
<polygon points="196,430.5 204,429.0 204,434.0 196,435.5" fill="#8a8a8a"/>
<polygon points="196,437.5 204,436.0 204,441.0 196,442.5" fill="#8a8a8a"/>
<rect x="219.500" y="435" width="6.5" height="8" fill="#3a3a3a"/><rect x="221" y="438" width="3.5" height="4" fill="#999"/>
<polygon points="151,422 170.6,432.300 213,424 213,428 170.6,437 151,428" fill="#9a9a9a"/>
<polygon points="68.8,437.5 145,432 158.400,436 158.400,478 145,480.6 68.8,496" fill="#4c4c4c"/>
<polygon points="68.8,437.5 145,432 145,443 68.8,451" fill="#b2b2b2"/>
<polygon points="70,440 143,434.500 143,436.500 70,442" fill="#8c8c8c"/>
<polygon points="68.8,437.5 90,428 151,422.500 158,426 158.400,436 145,432" fill="#a6a6a6"/>
<g stroke="#7a7a7a" stroke-width="0.9" fill="none"><path d="M78,433.500 L150,426 M86,430 L152,423.800 M100,435.200 L112,426.800 M122,433.600 L134,425.200 M140,432.400 L151,424"/></g>
<path d="M122,416 v12 M125,418 v9" stroke="#999" stroke-width="1.6" fill="none"/>
<polygon points="68.8,453.0 145,444.5 145,447.7 68.8,456.8" fill="#b4b4b4"/>
<polygon points="68.8,456.8 145,447.7 145,448.7 68.8,458.0" fill="#8a8a8a"/>
<polygon points="68.8,461.2 145,451.4 145,454.59999999999997 68.8,465.0" fill="#b4b4b4"/>
<polygon points="68.8,465.0 145,454.59999999999997 145,455.59999999999997 68.8,466.2" fill="#8a8a8a"/>
<polygon points="68.8,469.4 145,458.3 145,461.5 68.8,473.2" fill="#b4b4b4"/>
<polygon points="68.8,473.2 145,461.5 145,462.5 68.8,474.4" fill="#8a8a8a"/>
<polygon points="68.8,477.6 145,465.2 145,468.4 68.8,481.40000000000003" fill="#b4b4b4"/>
<polygon points="68.8,481.40000000000003 145,468.4 145,469.4 68.8,482.6" fill="#8a8a8a"/>
<polygon points="68.8,485.8 145,472.1 145,475.3 68.8,489.6" fill="#b4b4b4"/>
<polygon points="68.8,489.6 145,475.3 145,476.3 68.8,490.8" fill="#8a8a8a"/>
<polygon points="68.8,490 145,476 145,480.6 68.8,496" fill="#a8a8a8"/>
<rect x="86.5" y="442.1" width="3" height="47.0" fill="#b0b0b0"/><rect x="89.5" y="442.1" width="1" height="47.0" fill="#6e6e6e"/>
<rect x="117.5" y="439.9" width="3" height="43.0" fill="#b0b0b0"/><rect x="120.5" y="439.9" width="1" height="43.0" fill="#6e6e6e"/>
<polygon points="145,432 158.400,436 158.400,478 145,480.6" fill="#7c7c7c"/>
<line x1="145" y1="438" x2="158.400" y2="441.0" stroke="#a8a8a8" stroke-width="1.2"/>
<line x1="145" y1="445" x2="158.400" y2="447.3" stroke="#a8a8a8" stroke-width="1.2"/>
<line x1="145" y1="452" x2="158.400" y2="453.6" stroke="#a8a8a8" stroke-width="1.2"/>
<line x1="145" y1="459" x2="158.400" y2="459.9" stroke="#a8a8a8" stroke-width="1.2"/>
<line x1="145" y1="466" x2="158.400" y2="466.2" stroke="#a8a8a8" stroke-width="1.2"/>
<line x1="145" y1="473" x2="158.400" y2="472.5" stroke="#a8a8a8" stroke-width="1.2"/>
<path d="M21.9,432 Q21.900,429.300 25,430.200 L52,437 Q56.800,438.500 56.800,444 L56.800,502.400 L50.700,504 L21.900,492 Z" fill="#a4a4a4"/>
<polygon points="24,452 46,456 46,490 24,482" fill="#767676"/>
<rect x="27" y="452" width="3" height="32" fill="#a8a8a8"/><rect x="33.500" y="454" width="4" height="33" fill="#959595"/><rect x="41" y="455" width="3.5" height="34" fill="#a8a8a8"/>
<rect x="8.7" y="456.0" width="39" height="2.6" fill="#bcbcbc"/><rect x="8.7" y="458.2" width="39" height="0.8" fill="#6e6e6e"/>
<rect x="8.7" y="455.5" width="3" height="3.6" fill="#9a9a9a"/>
<rect x="8.7" y="463.4" width="39" height="2.6" fill="#bcbcbc"/><rect x="8.7" y="465.59999999999997" width="39" height="0.8" fill="#6e6e6e"/>
<rect x="8.7" y="462.9" width="3" height="3.6" fill="#9a9a9a"/>
<rect x="8.7" y="470.7" width="39" height="2.6" fill="#bcbcbc"/><rect x="8.7" y="472.9" width="39" height="0.8" fill="#6e6e6e"/>
<rect x="8.7" y="470.2" width="3" height="3.6" fill="#9a9a9a"/>
<rect x="8.7" y="477.5" width="39" height="2.6" fill="#bcbcbc"/><rect x="8.7" y="479.7" width="39" height="0.8" fill="#6e6e6e"/>
<rect x="8.7" y="477.0" width="3" height="3.6" fill="#9a9a9a"/>
<polygon points="8.700,443.800 24,440.500 45.500,445 45.500,454 27,450.500 8.700,452" fill="#aaaaaa"/><polygon points="8.700,443.800 24,440.500 45.500,445 28,448" fill="#c8c8c8"/><polygon points="28,448 45.500,445 45.500,454 28,457" fill="#8e8e8e"/><polygon points="11,444.600 23,442 30,443.500 18,446.200" fill="#8a8a8a"/>
<polygon points="14.900,485 30,481.500 52.400,489 52.400,502.400 34,498 14.900,491" fill="#a2a2a2"/><polygon points="14.900,485 30,481.500 52.400,489 35,492.500" fill="#c4c4c4"/>
<polygon points="52,437 56.800,438.500 60,438 60,503.500 56.800,504.500 56.800,444" fill="#c2c2c2"/>
<polygon points="50.700,504 56.800,502.400 60,503.500 53,506" fill="#8a8a8a"/>
<polygon points="60,438 69.8,437.5 69.8,500 60,503.500" fill="#6e6e6e"/>
<rect x="61.5" y="441" width="6.500" height="27" fill="#8e8e8e"/>
<rect x="61.5" y="482" width="7" height="14" fill="#5c5c5c"/>
<polygon points="61,498 69.800,496 69.800,500 61,503" fill="#262626"/>
<circle cx="64.700" cy="476" r="3.2" fill="#cacaca" stroke="#7a7a7a" stroke-width="0.6"/><circle cx="62.800" cy="490" r="1.8" fill="#b4b4b4"/>
<polygon points="21.900,429.900 32,427 68.800,434.500 68.800,437.500 60,438 52,437 25,430.200" fill="#bdbdbd"/>
<path d="M34,428 v4 M40,429.200 v4 M46,430.500 v4" stroke="#8a8a8a" stroke-width="1.2"/>
<polygon points="151,426 171,436 171,442 158.400,439 158.400,436 151,431" fill="#a8a8a8"/>
<polygon points="158.4,438.6 207.3,446.2 207.3,495.6 158.4,477" fill="url(#bdoor)"/>
<polygon points="207.3,446.2 210.6,445.200 210.6,494 207.3,495.6" fill="#cdcdcd"/>
<polygon points="158.4,437.600 207.3,445.200 210.600,444.400 161.500,437" fill="#c9b78e"/>
<line x1="180.7" y1="442" x2="180.7" y2="485.500" stroke="#8e8e8e" stroke-width="0.8"/>
<rect x="203.500" y="454" width="1.2" height="1.2" fill="#555"/><rect x="203.500" y="466" width="1.6" height="3" fill="#444"/><rect x="203.500" y="484" width="1.2" height="1.2" fill="#555"/>
<polygon points="151,379.8 170.6,380.8 170.6,432.3 151,420.8" fill="#dcb33a"/>
<polygon points="170.6,380.8 212.4,378.3 212.4,423.4 170.6,432.3" fill="url(#byel)"/>
<polygon points="151,379.8 173,370 170.6,380.8" fill="#e6bd42"/>
<polygon points="170.6,380.8 173,370 203.5,369.6 212.4,378.3" fill="#f6d25a"/>
<g opacity="0.42"><text class="wm" x="112" y="455" font-size="18.5" textLength="75" lengthAdjust="spacing">九龙机械</text><path d="M88.5,456.5 L97.4,435.5 L102.6,435.5 L95.5,451.2 L101.4,451.2 L104.1,444.3 L107.5,456.5 Z" fill="#777"/><text class="wm" x="112" y="462" font-size="5.5" textLength="75" lengthAdjust="spacingAndGlyphs" style="font-style:normal">KOWLOON MACHINERY</text></g>
</g>
</svg>

<div id="title"><span>分拣流程</span>
<svg width="30" height="30" viewBox="0 0 30 30" style="left:162px;top:12px"><circle cx="15" cy="14" r="12.300" fill="none" stroke="#fff" stroke-width="1.6"/><path d="M6.900 9 L15 13.500 L23 9 L15 23 Z" fill="#fff"/></svg>
</div>

<div class="t" style="left:98px;top:110.600px;font-size:15px;font-weight:500;color:#3a3a3a;-webkit-text-stroke:0.35px #3a3a3a;">混合生活垃圾</div>

<div class="t lbl" style="left:72px;top:312px;">步进式给料机</div>
<div class="t lbl" style="left:504px;top:311px;">破袋整形机</div>
<div class="t lbl" style="left:931px;top:330.500px;">人工分拣房</div>
<div class="t lbl" style="left:97px;top:521px;">液压打包机</div>
<div class="t lbl" style="left:499px;top:530px;"><span style="font-family:'DejaVu Sans',sans-serif;font-weight:400;font-size:16.5px;color:#5a5a5a;">occ</span>组合筛</div>

<div class="t num" style="left:319.800px;top:194.100px;">①</div>
<div class="t sm" style="left:297px;top:235px;">均匀送料</div>
<div class="t num" style="left:740px;top:193px;">②</div>
<div class="t sm" style="left:710px;top:234px;">破开垃圾袋</div>
<div class="t num" style="left:788.500px;top:393.500px;">③</div>
<div class="t sm" style="left:661px;top:436px;">分选出木头、薄膜、编织袋、小家电、织物</div>
<div class="t sm" style="left:357px;top:400px;">上端</div>
<div class="t sm" style="left:342px;top:430px;">瓦楞纸盒</div>

<div id="ybox"><div style="top:14px">承重量大、运行平稳</div><div style="top:37px">连续输送物料</div></div>
<div id="wbox"><div>通过碟盘的滚动把不同尺寸和形状进行分离</div></div>
</body>
</html>
